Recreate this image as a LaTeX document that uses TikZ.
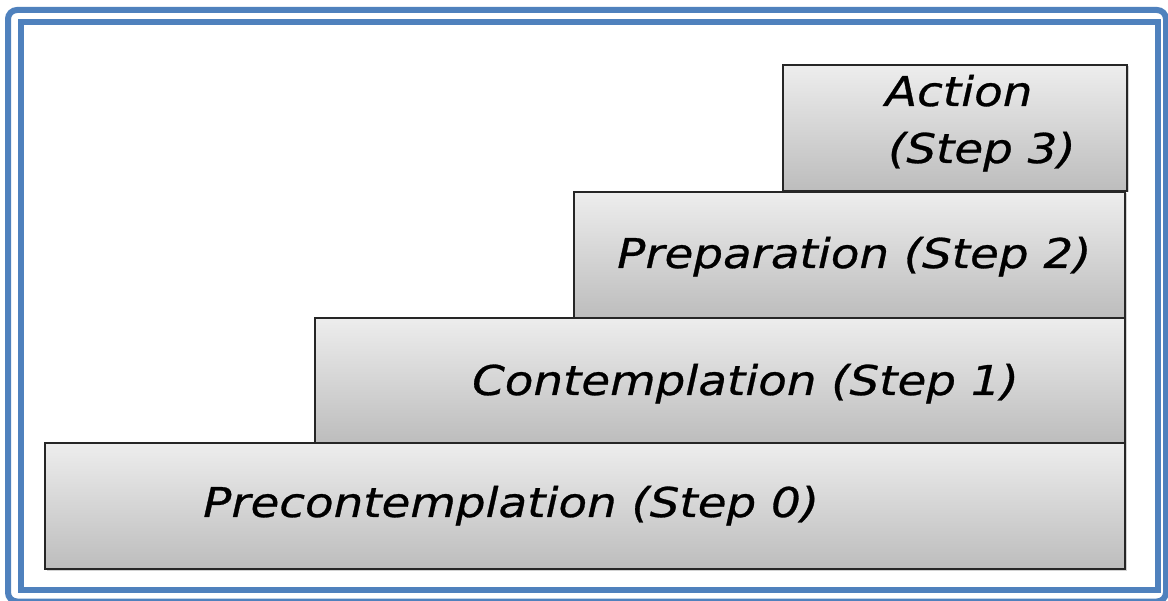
\documentclass[tikz,border=0pt]{standalone}
\usepackage{fontspec}
\newfontfamily\stepfont[FakeStretch=1.14, FakeBold=0.7]{DejaVu Sans}
\usetikzlibrary{shadows}
\definecolor{frameblue}{HTML}{4F81BD}
\tikzset{
  frameline/.style={draw=frameblue, line width=6pt},
  stagebox/.style={draw=black!85, line width=1.2pt,
    top color=black!7, bottom color=black!26,
    drop shadow={shadow xshift=1.5pt, shadow yshift=-1.5pt, opacity=0.35}},
  stagetext/.style={inner sep=0pt, anchor=base west,
    font=\stepfont\itshape\fontsize{41}{49}\selectfont}
}
\begin{document}
\begin{tikzpicture}[x=1pt,y=-1pt]
  \useasboundingbox (0,0) rectangle (1168,601);
  \clip (0,0) rectangle (1168,601);
  \fill[white] (0,0) rectangle (1168,601);
  % double blue frame
  \draw[frameline, rounded corners=9pt] (8,10) rectangle (1166,601.5);
  \draw[frameline] (20.5,22) rectangle (1157.5,590);
  % staircase of stages
  \path[stagebox] (45,443) rectangle (1125,569);
  \path[stagebox] (315,318) rectangle (1125,443);
  \path[stagebox] (574,192) rectangle (1125,318);
  \path[stagebox] (783,65) rectangle (1127,191);
  \node[stagetext] (t0) at (203,517) {Precontemplation (Step 0)};
  \node[stagetext] (t1) at (472,395) {Contemplation (Step 1)};
  \node[stagetext] (t2) at (617,268) {Preparation (Step 2)};
  \node[stagetext] (t3a) at (885,106) {Action};
  \node[stagetext] (t3b) at (888,163) {(Step 3)};
\end{tikzpicture}
\end{document}
